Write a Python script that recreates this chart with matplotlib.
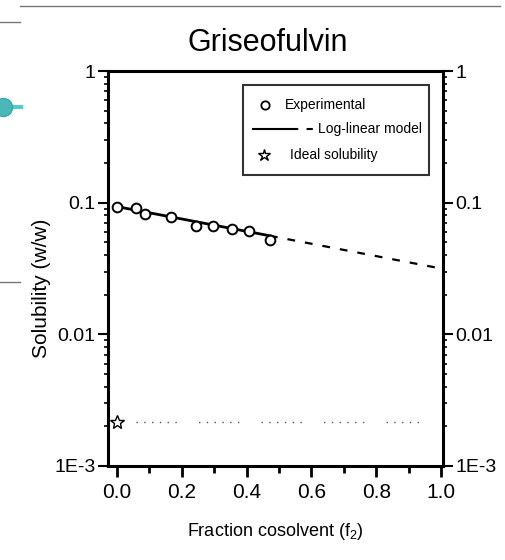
import numpy as np
import matplotlib
matplotlib.use("Agg")
import matplotlib.pyplot as plt
from matplotlib.lines import Line2D
from matplotlib.patches import Rectangle
from matplotlib.ticker import FixedLocator, LogLocator, NullFormatter

plt.rcParams['font.family'] = ['Liberation Sans Narrow', 'Liberation Sans', 'DejaVu Sans']
plt.rcParams['mathtext.default'] = 'regular'

frac = [0.0, 0.058, 0.086, 0.165, 0.245, 0.297, 0.356, 0.407, 0.472]
solub = [0.0926, 0.0905, 0.0824, 0.078, 0.0664, 0.067, 0.0634, 0.0605, 0.0516]

# log-linear model: log S = log Sw + sigma * f
log_sw = -1.03
sigma = -0.47
f_solid = [0.0, 0.472]
f_dash = [0.472, 1.0]

# ideal solubility
ideal_f = [0.0]
ideal_s = [0.00216]
ideal_line_f = [0.06, 0.94]

yticks = [0.001, 0.01, 0.1, 1]
ytick_labels = ['1E-3', '0.01', '0.1', '1']
xticks = [0.0, 0.2, 0.4, 0.6, 0.8, 1.0]

fig = plt.figure(figsize=(5.06, 5.60), dpi=100)
ax = fig.add_axes([0.2134, 0.1679, 0.6621, 0.7053])

model = lambda f: 10 ** (log_sw + sigma * np.asarray(f))
ax.plot(f_solid, model(f_solid), color='black', lw=2)
ax.plot(f_dash, model(f_dash), color='black', lw=1.6, dashes=(3.5, 4.5))
ax.plot(frac, solub, 'o', ms=7, mfc='white', mec='black', mew=1.4)
ax.plot(ideal_f, ideal_s, '*', ms=10, mfc='white', mec='black', mew=1.0)
ax.plot(ideal_line_f, [ideal_s[0]] * 2, color='#555555', lw=1,
        dashes=(1, 4.6, 1, 4.6, 1, 4.6, 1, 4.6, 1, 4.6, 1, 16))

ax.set_yscale('log')
ax.set_ylim(0.001, 1)
ax.set_xlim(-0.028, 1.006)

ax.yaxis.set_major_locator(FixedLocator(yticks))
ax.set_yticklabels(ytick_labels)
ax.yaxis.set_minor_locator(LogLocator(base=10, subs=np.arange(2, 10)))
ax.yaxis.set_minor_formatter(NullFormatter())
ax.set_xticks(xticks)
ax.set_xticklabels(['%.1f' % v for v in xticks])
ax.set_xticks(np.arange(0.1, 1.0, 0.2), minor=True)

ax.tick_params(axis='y', which='both', left=True, right=True,
               labelleft=True, labelright=True, direction='out')
ax.tick_params(axis='y', which='major', length=7, width=1.5, labelsize=14, pad=2)
ax.tick_params(axis='y', which='minor', length=3, width=1.2)
ax.tick_params(axis='x', which='both', top=False, direction='out', width=2)
ax.tick_params(axis='x', which='major', length=8, labelsize=15, pad=4)
ax.tick_params(axis='x', which='minor', length=5)
for s in ax.spines.values():
    s.set_linewidth(2.2)

ax.set_xlabel('Fraction cosolvent (f$_2$)', fontsize=13, labelpad=14)
ax.set_ylabel('Solubility (w/w)', fontsize=15,
              family=['Liberation Sans', 'DejaVu Sans'])
ax.yaxis.set_label_coords(-0.17, 0.45)
fig.text(0.53, 0.923, 'Griseofulvin', ha='center', va='center',
         fontsize=22, family=['Liberation Sans', 'DejaVu Sans'])

# legend box drawn by hand
tr = ax.transAxes
ax.add_patch(Rectangle((0.403, 0.737), 0.555, 0.228, transform=tr,
                       fill=False, ec='#333333', lw=1.5, zorder=5))
ax.plot([0.469], [0.914], 'o', ms=6, mfc='white', mec='black', mew=1.3, transform=tr)
ax.text(0.528, 0.914, 'Experimental', transform=tr, va='center', fontsize=10)
ax.plot([0.433, 0.545], [0.853, 0.853], color='black', lw=1.5, transform=tr)
ax.plot([0.548, 0.618], [0.853, 0.853], color='black', lw=1.5, dashes=(3, 4), transform=tr)
ax.text(0.627, 0.853, 'Log-linear model', transform=tr, va='center', fontsize=10)
ax.plot([0.466], [0.787], '*', ms=9, mfc='white', mec='black', mew=1.0, transform=tr)
ax.text(0.543, 0.787, 'Ideal solubility', transform=tr, va='center', fontsize=10)

# slide decorations around the chart
H, W = 560.0, 506.0
fig.add_artist(Line2D([20 / W, 500 / W], [1 - 6 / H] * 2, color='#777777', lw=1))
fig.add_artist(Line2D([0, 20 / W], [1 - 22 / H] * 2, color='#777777', lw=1))
fig.add_artist(Line2D([0, 20 / W], [1 - 282 / H] * 2, color='#777777', lw=1))
fig.add_artist(Line2D([0, 21 / W], [1 - 107 / H] * 2, color='#5cc8c8', lw=3))
fig.add_artist(Line2D([3 / W], [1 - 107 / H], marker='o', ms=13,
                      mfc='#4ab8b8', mec='#3aa8a8'))

fig.savefig('out.png', dpi=100)
